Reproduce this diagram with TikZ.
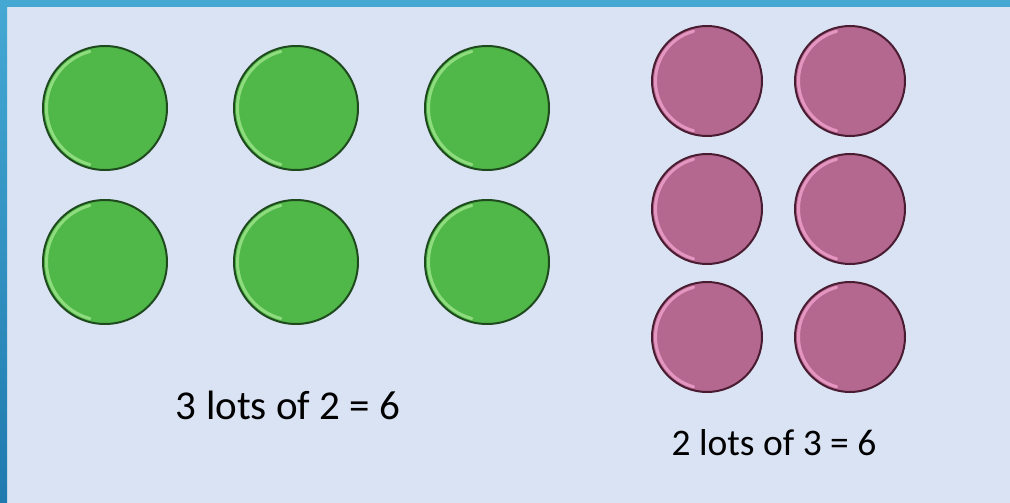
\documentclass[tikz,border=0pt]{standalone}
\usepackage{fontspec}
\setmainfont{Carlito}
\usetikzlibrary{positioning}
\usepackage{xcolor}
\definecolor{paleblue}{HTML}{DAE3F3}
\definecolor{barblue}{HTML}{44A8D3}
\definecolor{bardark}{HTML}{1F7AAF}
\definecolor{counterg}{HTML}{50B848}
\definecolor{edgeg}{HTML}{1E4A1E}
\definecolor{shineg}{HTML}{8EDC7E}
\definecolor{counterp}{HTML}{B4688F}
\definecolor{edgep}{HTML}{4A1C32}
\definecolor{shinep}{HTML}{E596C0}

\begin{document}
\begin{tikzpicture}[
  x=1pt, y=-1pt,
  greencounter/.style={circle, draw=edgeg, fill=counterg, line width=2pt,
    minimum size=124pt, inner sep=0pt,
    path picture={\draw[shineg, line width=3pt, line cap=round]
      (path picture bounding box.center) ++(105:58.5pt) arc[start angle=105, end angle=255, radius=58.5pt];}},
  pinkcounter/.style={circle, draw=edgep, fill=counterp, line width=2pt,
    minimum size=110pt, inner sep=0pt,
    path picture={\draw[shinep, line width=3pt, line cap=round]
      (path picture bounding box.center) ++(105:51.5pt) arc[start angle=105, end angle=255, radius=51.5pt];}},
  sum/.style={anchor=base, inner sep=0pt, text=black},
]
% === Slide background ===
\fill[paleblue] (0,0) rectangle (1010,503);
\fill[barblue] (0,0) rectangle (1010,7);
\shade[top color=barblue, bottom color=bardark] (0,7) rectangle (7,503);

% === Left group: 3 lots of 2 ===
\node[greencounter] (g1) at (105,108) {};
\node[greencounter, right=65pt of g1] (g2) {};
\node[greencounter, right=65pt of g2] (g3) {};
\node[greencounter, below=28pt of g1] (g4) {};
\node[greencounter, below=28pt of g2] (g5) {};
\node[greencounter, below=28pt of g3] (g6) {};
\node[sum, font=\fontsize{41}{48}\selectfont] (leftsum) at (288,419) {3 lots of 2 = 6};

% === Right group: 2 lots of 3 ===
\node[pinkcounter] (p1) at (707,81) {};
\node[pinkcounter, right=31pt of p1] (p2) {};
\node[pinkcounter, below=16pt of p1] (p3) {};
\node[pinkcounter, below=16pt of p2] (p4) {};
\node[pinkcounter, below=16pt of p3] (p5) {};
\node[pinkcounter, below=16pt of p4] (p6) {};
\node[sum, font=\fontsize{37.5}{44}\selectfont] (rightsum) at (774,455) {2 lots of 3 = 6};
\end{tikzpicture}
\end{document}
